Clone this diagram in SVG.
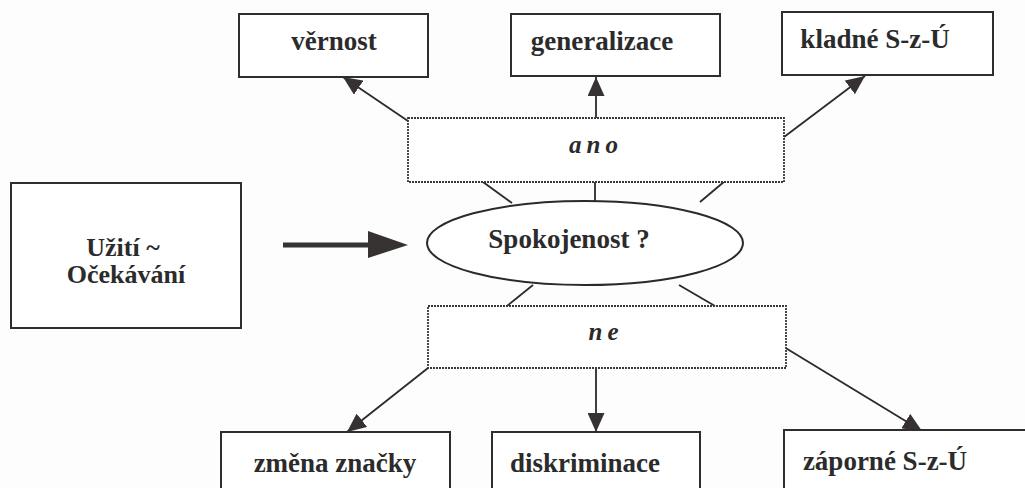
<svg xmlns="http://www.w3.org/2000/svg" width="1025" height="488" viewBox="0 0 1025 488">
  <style>
    .box { fill: #ffffff; stroke: #2e2e2e; stroke-width: 2; }
    .dot { fill: #ffffff; stroke: #383838; stroke-width: 1.8; stroke-dasharray: 2 1; }
    text { font-family: 'Liberation Serif', 'DejaVu Serif', serif; font-weight: bold; fill: #2b2b2b; text-anchor: middle; }
    .lbl { font-size: 27px; }
    .two { font-size: 26px; }
    .ans { font-style: italic; font-size: 25px; letter-spacing: 5px; }
    .ln { stroke: #2a2a2a; stroke-width: 1.8; fill: none; }
    .arr { marker-end: url(#head); }
  </style>
  <defs>
    <marker id="head" markerUnits="userSpaceOnUse" markerWidth="19" markerHeight="17" refX="19" refY="8.5" orient="auto" viewBox="0 0 19 17">
      <path d="M0,0 L19,8.5 L0,17 z" fill="#363232"/>
    </marker>
  </defs>
  <rect width="1025" height="488" fill="#fdfdfd"/>

  <!-- connectors -->
  <g id="connectors">
    <line class="ln arr" x1="408" y1="121" x2="343" y2="77"/>
    <line class="ln arr" x1="596" y1="118" x2="596" y2="77"/>
    <line class="ln arr" x1="784" y1="137" x2="865" y2="76"/>
    <line class="ln" x1="483" y1="182" x2="512" y2="203"/>
    <line class="ln" x1="595" y1="182" x2="595" y2="202"/>
    <line class="ln" x1="725" y1="181" x2="700" y2="202"/>
    <line class="ln" x1="533" y1="285" x2="507" y2="306"/>
    <line class="ln" x1="679" y1="285" x2="715" y2="306"/>
    <line class="ln arr" x1="428" y1="368" x2="347" y2="432"/>
    <line class="ln arr" x1="596" y1="368" x2="596" y2="432"/>
    <line class="ln arr" x1="784" y1="347" x2="922" y2="431"/>
    <!-- heavy arrow into the question -->
    <line x1="283" y1="245" x2="370" y2="245" stroke="#333333" stroke-width="5"/>
    <path d="M368,231 L408,245 L368,258 z" fill="#363232"/>
  </g>

  <g id="vernost">
    <rect class="box" x="239" y="14" width="189" height="63"/>
    <text class="lbl" x="334" y="50">věrnost</text>
  </g>
  <g id="generalizace">
    <rect class="box" x="511" y="14" width="209" height="62"/>
    <text class="lbl" x="602" y="50">generalizace</text>
  </g>
  <g id="kladne">
    <rect class="box" x="782" y="12" width="211" height="63"/>
    <text class="lbl" x="875" y="48">kladné S-z-Ú</text>
  </g>

  <g id="ano">
    <rect class="dot" x="408" y="118" width="376" height="64"/>
    <text class="ans" x="596" y="153">ano</text>
  </g>

  <g id="uziti">
    <rect class="box" x="11" y="183" width="230" height="145"/>
    <text class="two" x="123" y="256">Užití ~</text>
    <text class="two" x="126" y="283">Očekávání</text>
  </g>

  <g id="spokojenost">
    <ellipse cx="585" cy="243" rx="158" ry="42" fill="#ffffff" stroke="#2a2a2a" stroke-width="2"/>
    <text class="lbl" x="569" y="248">Spokojenost ?</text>
  </g>

  <g id="ne">
    <rect class="dot" x="428" y="306" width="358" height="62"/>
    <text class="ans" x="606" y="340">ne</text>
  </g>

  <g id="zmena">
    <rect class="box" x="221" y="432" width="229" height="70"/>
    <text class="lbl" x="335" y="472">změna značky</text>
  </g>
  <g id="diskriminace">
    <rect class="box" x="492" y="432" width="208" height="70"/>
    <text class="lbl" x="585" y="472">diskriminace</text>
  </g>
  <g id="zaporne">
    <rect class="box" x="784" y="430" width="260" height="70"/>
    <text class="lbl" x="885" y="470">záporné S-z-Ú</text>
  </g>
</svg>
